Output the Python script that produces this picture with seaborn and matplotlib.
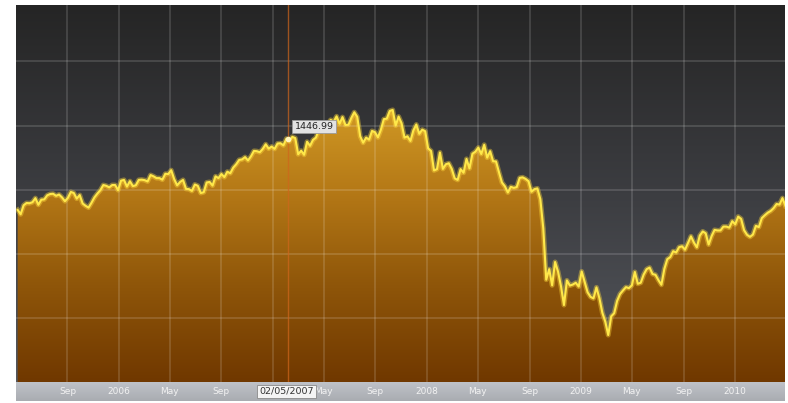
import numpy as np
import pandas as pd
import matplotlib
matplotlib.use("Agg")
import matplotlib.pyplot as plt
import matplotlib.dates as mdates
from matplotlib.colors import LinearSegmentedColormap
import seaborn as sns

# weekly closes (Fridays)
spx_2005 = [1171, 1154, 1189, 1198, 1197, 1201, 1217, 1191, 1211, 1212, 1228, 1233, 1234,
            1226, 1231, 1220, 1205, 1218, 1241, 1237, 1215, 1229, 1196, 1187, 1180, 1199,
            1220, 1235, 1248, 1268, 1265, 1259, 1268, 1268, 1248]
spx_2006 = [1285, 1288, 1262, 1283, 1264, 1267, 1288, 1289, 1287, 1282, 1307, 1302, 1295,
            1295, 1289, 1312, 1311, 1326, 1291, 1267, 1280, 1288, 1253, 1252, 1245, 1270,
            1265, 1237, 1240, 1278, 1280, 1266, 1302, 1295, 1311, 1299, 1320, 1314, 1336,
            1349, 1366, 1368, 1377, 1364, 1380, 1401, 1400, 1396, 1409, 1427, 1410, 1418]
spx_2007 = [1409, 1430, 1431, 1423, 1449, 1438, 1456, 1451, 1388, 1402, 1386, 1437, 1421,
            1444, 1453, 1484, 1494, 1505, 1505, 1522, 1515, 1536, 1507, 1533, 1502, 1503,
            1530, 1552, 1534, 1458, 1433, 1453, 1445, 1479, 1474, 1454, 1484, 1525, 1527,
            1557, 1561, 1500, 1535, 1509, 1453, 1458, 1440, 1481, 1504, 1468, 1484, 1478]
spx_2008 = [1411, 1401, 1325, 1330, 1395, 1331, 1349, 1353, 1331, 1294, 1288, 1330, 1316,
            1370, 1333, 1390, 1398, 1414, 1389, 1425, 1375, 1400, 1361, 1360, 1318, 1278,
            1263, 1239, 1261, 1257, 1260, 1296, 1298, 1292, 1283, 1242, 1252, 1255, 1213,
            1099, 899, 940, 877, 968, 930, 873, 800, 896, 876, 880, 887, 872]
spx_2009 = [931, 890, 850, 832, 826, 869, 827, 770, 735, 683, 756, 768, 816,
            843, 857, 870, 866, 877, 929, 883, 887, 919, 940, 946, 921, 918,
            897, 879, 941, 979, 987, 1010, 1005, 1026, 1029, 1016, 1042, 1068, 1044,
            1025, 1071, 1087, 1080, 1036, 1069, 1093, 1091, 1091, 1106, 1106, 1102, 1127]
spx_2010 = [1115, 1145, 1136, 1092, 1074, 1066, 1075, 1109, 1104, 1139, 1150, 1160, 1167,
            1178, 1194, 1192, 1217, 1187]

first_week = "2005-05-06"
tick_dates = ["2005-09-01", "2006-01-01", "2006-05-01", "2006-09-01", "2007-01-01",
              "2007-05-01", "2007-09-01", "2008-01-01", "2008-05-01", "2008-09-01",
              "2009-01-01", "2009-05-01", "2009-09-01", "2010-01-01"]
# the 2007 label sits under the hover date box, so it is left blank
tick_labels = ["Sep", "2006", "May", "Sep", "", "May", "Sep", "2008", "May", "Sep",
               "2009", "May", "Sep", "2010"]
y_grid = [750, 1000, 1250, 1500, 1750]
hover_date = "2007-02-05"
hover_value = 1446.99
hover_text = "1446.99"
hover_label = "02/05/2007"

closes = spx_2005 + spx_2006 + spx_2007 + spx_2008 + spx_2009 + spx_2010
df = pd.DataFrame({
    "date": pd.date_range(first_week, periods=len(closes), freq="W-FRI"),
    "close": closes,
})

W, H = 788, 403
fig = plt.figure(figsize=(W / 100, H / 100), dpi=100, facecolor="white")
ax = fig.add_axes([16 / W, 21 / H, 769 / W, 377 / H])
bar_ax = fig.add_axes([16 / W, 2 / H, 769 / W, 19 / H])

x0 = mdates.date2num(pd.Timestamp("2005-05-02"))
x1 = mdates.date2num(pd.Timestamp("2010-04-29"))
y0, y1 = 500, 1970

# dark background gradient
bg_cmap = LinearSegmentedColormap.from_list("bg", ["#55585e", "#3c3d41", "#252525"])
grad = np.linspace(0, 1, 256).reshape(-1, 1)
ax.imshow(grad, cmap=bg_cmap, aspect="auto", origin="lower",
          extent=[x0, x1, y0, y1], zorder=0)

# golden area fill gradient clipped to the series
xs = mdates.date2num(df["date"])
poly = ax.fill_between(xs, df["close"], y0, color="none", zorder=1)
fill_cmap = LinearSegmentedColormap.from_list(
    "fill", ["#703800", "#8e5509", "#b47816", "#d39c26", "#e4b034"])
img = ax.imshow(grad, cmap=fill_cmap, aspect="auto", origin="lower",
                extent=[x0, x1, y0, y1], zorder=1)
img.set_clip_path(poly.get_paths()[0], transform=ax.transData)

# grid
for t in tick_dates:
    ax.axvline(mdates.date2num(pd.Timestamp(t)), color="white", alpha=0.15, lw=1.3, zorder=2)
for g in y_grid:
    ax.axhline(g, color="white", alpha=0.15, lw=1.3, zorder=2)

# glow + line
ax.plot(xs, df["close"], color="#ffd83a", lw=3.6, alpha=0.4, zorder=3)
sns.lineplot(x=xs, y=df["close"], ax=ax, color="#ffe84a", lw=1.5, zorder=4)

# hover marker
hx = mdates.date2num(pd.Timestamp(hover_date))
ax.axvline(hx, color="#d0661c", alpha=0.7, lw=1.0, zorder=2.5)
ax.plot([hx], [hover_value], "o", ms=3, color="#fff6c0", zorder=5)
ax.annotate(hover_text, (hx, hover_value), xytext=(19, 9), textcoords="offset points",
            ha="center", va="center", fontsize=6.8, color="#222222", zorder=6,
            bbox=dict(boxstyle="square,pad=0.25", fc="#e2e2e2", ec="#9a9a9a", lw=0.6))

ax.set_xlim(x0, x1)
ax.set_ylim(y0, y1)
ax.set_xticks([])
ax.set_yticks([])
ax.set_xlabel("")
ax.set_ylabel("")
for s in ax.spines.values():
    s.set_visible(False)

# bottom axis strip
bar_cmap = LinearSegmentedColormap.from_list("bar", ["#a9acb1", "#bfc2c8"])
bar_ax.imshow(grad, cmap=bar_cmap, aspect="auto", origin="lower",
              extent=[x0, x1, 0, 1], zorder=0)
bar_ax.set_xlim(x0, x1)
bar_ax.set_ylim(0, 1)
for t, lab in zip(tick_dates, tick_labels):
    if lab:
        bar_ax.text(mdates.date2num(pd.Timestamp(t)), 0.5, lab, ha="center", va="center",
                    fontsize=6.5, color="#f2f2f2", zorder=1)
bar_ax.text(hx - 3, 0.5, hover_label, ha="center", va="center", fontsize=6.8,
            color="#333333", zorder=3,
            bbox=dict(boxstyle="square,pad=0.25", fc="#f4f4f4", ec="#8a8a8a", lw=0.6))
bar_ax.axis("off")

fig.savefig("out.png", dpi=100, facecolor="white")
